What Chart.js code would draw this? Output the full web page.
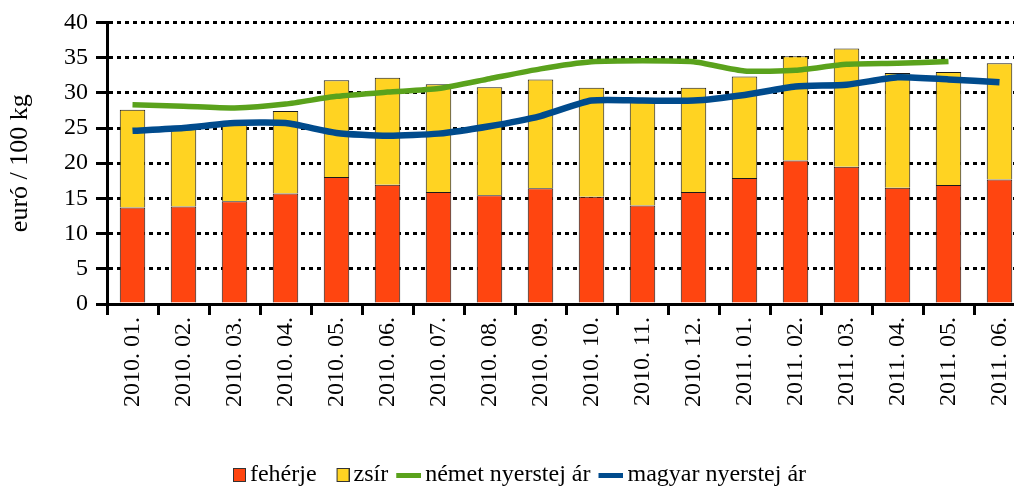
<!DOCTYPE html>
<html>
<head>
<meta charset="utf-8">
<script src="https://cdn.jsdelivr.net/npm/chart.js@4/dist/chart.umd.min.js"></script>
<style>
  html, body { margin: 0; padding: 0; background: #fff; overflow: hidden; }
  #wrap { width: 1040px; height: 487px; }
</style>
</head>
<body>
<div id="wrap"><canvas id="tejChart" width="1040" height="487"></canvas></div>
<script>
// adatok
const honapok = ['2010. 01.', '2010. 02.', '2010. 03.', '2010. 04.', '2010. 05.', '2010. 06.',
  '2010. 07.', '2010. 08.', '2010. 09.', '2010. 10.', '2010. 11.', '2010. 12.',
  '2011. 01.', '2011. 02.', '2011. 03.', '2011. 04.', '2011. 05.', '2011. 06.'];
const feherje = [13.7, 13.85, 14.6, 15.7, 18.05, 16.95, 15.9, 15.45, 16.45, 15.25, 14.0, 15.9,
  17.9, 20.4, 19.5, 16.5, 16.9, 17.7];
const zsir = [13.9, 11.05, 11.0, 11.7, 13.75, 15.2, 15.3, 15.35, 15.45, 15.45, 14.8, 14.8,
  14.4, 14.8, 16.8, 16.3, 16.05, 16.5];
const nemetAr = [28.3, 28.1, 27.85, 28.4, 29.5, 30.1, 30.6, 32.0, 33.4, 34.4, 34.55, 34.4,
  33.1, 33.2, 34.05, 34.2, 34.45, null];
const magyarAr = [24.6, 25.0, 25.7, 25.7, 24.3, 23.9, 24.2, 25.25, 26.7, 28.9, 28.9, 28.9,
  29.7, 30.9, 31.15, 32.2, 31.9, 31.5];
const yTicks = [0, 5, 10, 15, 20, 25, 30, 35, 40];

const betu = 'Liberation Serif';
const PSW = 19; // pointStyleWidth a jelmagyarazatban

// jelmagyarazat jelek (kis canvas kepek)
function jel(tipus, szin) {
  const c = document.createElement('canvas');
  const w = tipus === 'negyzet' ? 13 : 25;
  c.width = PSW + 16;
  c.height = 16;
  const g = c.getContext('2d');
  const x0 = c.width - w;
  if (tipus === 'negyzet') {
    g.fillStyle = szin;
    g.fillRect(x0 + 0.5, 1.5, 12, 13);
    g.strokeStyle = '#333';
    g.lineWidth = 1;
    g.strokeRect(x0 + 0.5, 1.5, 12, 13);
  } else {
    g.fillStyle = szin;
    g.fillRect(x0, 6, w, 5);
  }
  return c;
}

const ctx = document.getElementById('tejChart').getContext('2d');
const tejChart = new Chart(ctx, {
  type: 'bar',
  data: {
    labels: honapok,
    datasets: [
      {
        label: 'fehérje', data: feherje, stack: 'ar', order: 1,
        backgroundColor: '#FF4510', borderColor: '#1a1a1a', borderWidth: 1,
        barPercentage: 0.5, categoryPercentage: 1.0,
        pointStyle: jel('negyzet', '#FF4510')
      },
      {
        label: 'zsír', data: zsir, stack: 'ar', order: 1,
        backgroundColor: '#FFD322', borderColor: '#1a1a1a', borderWidth: 1,
        barPercentage: 0.5, categoryPercentage: 1.0,
        pointStyle: jel('negyzet', '#FFD322')
      },
      {
        type: 'line', label: 'német nyerstej ár', data: nemetAr, stack: 'nemet', order: 0,
        borderColor: '#5AA21C', backgroundColor: '#5AA21C', borderWidth: 5.5,
        pointRadius: 0, tension: 0.2, fill: false,
        pointStyle: jel('vonal', '#5AA21C')
      },
      {
        type: 'line', label: 'magyar nyerstej ár', data: magyarAr, stack: 'magyar', order: 0,
        borderColor: '#004B8D', backgroundColor: '#004B8D', borderWidth: 6.5,
        pointRadius: 0, tension: 0.2, fill: false,
        pointStyle: jel('vonal', '#004B8D')
      }
    ]
  },
  options: {
    responsive: false,
    animation: false,
    layout: { padding: { left: 0, right: 15, top: 21, bottom: -10 } },
    plugins: {
      tooltip: { enabled: false },
      legend: {
        position: 'bottom',
        labels: {
          usePointStyle: true,
          pointStyleWidth: PSW,
          padding: 6,
          color: '#000',
          font: { family: betu, size: 24 },
          sort: (a, b) => a.datasetIndex - b.datasetIndex
        }
      }
    },
    scales: {
      x: {
        stacked: true,
        grid: {
          offset: true, drawOnChartArea: false, drawTicks: true,
          tickLength: 11, tickWidth: 3, tickColor: '#000', color: '#000'
        },
        border: { display: true, color: '#000', width: 3 },
        ticks: {
          color: '#000', font: { family: betu, size: 24 },
          minRotation: 90, maxRotation: 90, padding: 2, autoSkip: false
        },
        afterFit: function(scale) { scale.height = 153; }
      },
      y: {
        stacked: true,
        min: 0, max: 40,
        afterBuildTicks: function(scale) { scale.ticks = yTicks.map(v => ({ value: v })); },
        grid: {
          color: '#000', lineWidth: 3, tickLength: 11, tickWidth: 3,
          tickColor: '#000', tickBorderDash: []
        },
        border: { display: true, color: '#000', width: 3, dash: [4, 4] },
        ticks: { color: '#000', font: { family: betu, size: 24 }, padding: 8 },
        title: {
          display: true, text: 'euró / 100 kg', color: '#000',
          font: { family: betu, size: 26 }, padding: { top: 5, bottom: 0 }
        },
        afterFit: function(scale) { scale.width = 107; }
      }
    }
  }
});
</script>
</body>
</html>
